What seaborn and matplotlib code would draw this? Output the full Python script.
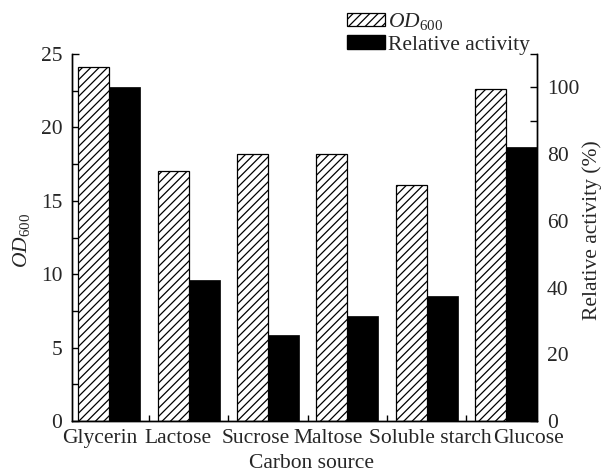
import matplotlib
matplotlib.use("Agg")
import matplotlib.pyplot as plt
import matplotlib.patches as mpatches
from matplotlib.ticker import MultipleLocator, FixedLocator, NullFormatter
import pandas as pd
import seaborn as sns

# Carbon sources tested and the two measured responses
sources = ["Glycerin", "Lactose", "Sucrose", "Maltose", "Soluble starch", "Glucose"]
od600 = [24.1, 17.0, 18.2, 18.2, 16.1, 22.6]
relative_activity = [100.0, 42.4, 25.8, 31.6, 37.5, 82.0]
series_names = ["OD600", "Relative activity"]
od_ticks = [0, 5, 10, 15, 20, 25]
activity_ticks = [0, 20, 40, 60, 80, 100]
# horizontal nudges (pixels) so the long category names do not collide
label_shift_px = [-10, -11, -12, -19, 4, 22]

FS = 15.5

sns.set_theme(style="ticks")
plt.rcParams["font.family"] = ["Liberation Serif", "DejaVu Serif"]
plt.rcParams["mathtext.fontset"] = "custom"
plt.rcParams["mathtext.rm"] = "Liberation Serif"
plt.rcParams["mathtext.it"] = "Liberation Serif:italic"
plt.rcParams["hatch.linewidth"] = 0.9
plt.rcParams["font.size"] = FS
plt.rcParams["axes.linewidth"] = 1.0

od_df = pd.DataFrame({"source": sources, "value": od600, "series": series_names[0]})
act_df = pd.DataFrame({"source": sources, "value": relative_activity,
                       "series": series_names[1]})

fig = plt.figure(figsize=(6.03, 4.73), dpi=100)
ax1 = fig.add_axes([0.1194, 0.1099, 0.7711, 0.7759])
ax2 = ax1.twinx()

common = dict(x="source", y="value", hue="series", hue_order=series_names,
              order=sources, width=0.78, dodge=True, legend=False,
              errorbar=None, saturation=1, palette=["white", "black"])
sns.barplot(data=od_df, ax=ax1, **common)
sns.barplot(data=act_df, ax=ax2, **common)

for bar in ax1.patches:
    bar.set_facecolor("white")
    bar.set_edgecolor("black")
    bar.set_hatch("////")
    bar.set_linewidth(0.9)
for bar in ax2.patches:
    bar.set_facecolor("black")
    bar.set_edgecolor("black")
    bar.set_linewidth(0.5)

# y axes
ax1.set_ylim(0, 25)
ax1.set_yticks(od_ticks)
ax1.yaxis.set_minor_locator(MultipleLocator(2.5))
ax2.set_ylim(0, 110)
ax2.set_yticks(activity_ticks)
ax2.yaxis.set_minor_locator(MultipleLocator(10))

# x axis: ticks between groups, names placed as text
n = len(sources)
ax1.set_xlim(-0.47, n - 1 + 0.39)
ax1.xaxis.set_major_locator(FixedLocator([i + 0.5 for i in range(n - 1)]))
ax1.xaxis.set_major_formatter(NullFormatter())

for ax in (ax1, ax2):
    ax.tick_params(axis="both", which="major", direction="in", length=5,
                   width=1, labelsize=FS, pad=7, color="black")
    ax.tick_params(axis="both", which="minor", direction="in", length=5,
                   width=1, color="black")
    ax.spines["top"].set_visible(False)
    for s in ("left", "right", "bottom"):
        ax.spines[s].set_color("black")
        ax.spines[s].set_linewidth(1.0)
ax1.tick_params(axis="x", which="major", length=4)

for i, (name, dx) in enumerate(zip(sources, label_shift_px)):
    ax1.annotate(name, xy=(i, 0), xycoords=ax1.get_xaxis_transform(),
                 xytext=(dx, -8), textcoords="offset pixels",
                 ha="center", va="top", fontsize=FS)

ax1.set_xlabel("Carbon source", fontsize=FS)
ax1.xaxis.set_label_coords(0.515, -0.09)
ax1.set_ylabel(r"$\mathit{OD}_{600}$", fontsize=FS)
ax1.yaxis.set_label_coords(-0.086, 0.493)
ax2.set_ylabel("Relative activity (%)", fontsize=FS)
ax2.yaxis.set_label_coords(1.097, 0.52)

handles = [
    mpatches.Patch(facecolor="white", edgecolor="black", hatch="////", linewidth=0.9),
    mpatches.Patch(facecolor="black", edgecolor="black"),
]
fig.legend(handles, [r"$\mathit{OD}_{600}$", "Relative activity"],
           loc="upper left", bbox_to_anchor=(347 / 603, 1 - 11 / 473),
           frameon=False, handlelength=1.75, handleheight=0.6,
           handletextpad=0.15, labelspacing=0.15, borderpad=0,
           borderaxespad=0, fontsize=FS)

fig.savefig("out.png", dpi=100)
